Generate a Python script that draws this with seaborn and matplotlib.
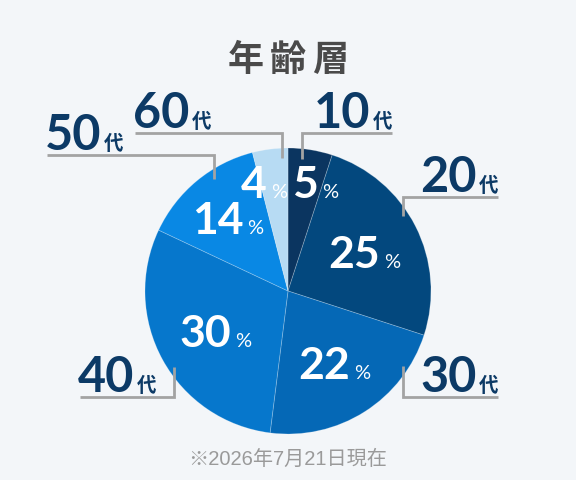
import matplotlib
matplotlib.use("Agg")
import matplotlib.pyplot as plt
import seaborn as sns
import numpy as np

# data
age_groups = ["10", "20", "30", "40", "50", "60"]
shares = [5, 25, 22, 30, 14, 4]
slice_colors = ["#0b3560", "#03487e", "#0568b6", "#0677cc", "#0988e4", "#b7dbf3"]
title = "年齢層"
note = "※2026年7月21日現在"

# layout (pixel coords, y downwards)
W, H = 576, 480
CX, CY, R = 288, 291, 143
pct_radius = [0.77, 0.6, 0.6, 0.58, 0.66, 0.77]
pct_nudge = [10, 0, 0, 0, 0, -10]
# anchor x, elbow y, line end x
leaders = [(302, 133, 392), (403, 197, 498), (403, 397, 498),
           (174, 397, 80), (214, 155, 47), (282, 133, 135)]

NAVY = "#0c3a66"
LINE = "#a3a3a3"
BG = "#f3f6f9"
NUM_FONT = ["Lato", "Noto Sans CJK JP", "DejaVu Sans"]
CJK_FONT = ["Noto Sans CJK JP", "DejaVu Sans"]

sns.set_theme(style="white")
plt.rcParams["font.family"] = CJK_FONT

fig = plt.figure(figsize=(W / 100, H / 100), dpi=100, facecolor=BG)
ax = fig.add_axes([0, 0, 1, 1])
ax.set_facecolor(BG)
ax.set_xlim(0, W)
ax.set_ylim(H, 0)
ax.set_aspect("equal")
ax.axis("off")

wedges, _ = ax.pie(shares, colors=slice_colors, center=(CX, CY), radius=R,
                   startangle=-90, counterclock=True,
                   wedgeprops=dict(edgecolor=(1, 1, 1, 0.25), linewidth=0.6))
ax.set_xlim(0, W)
ax.set_ylim(H, 0)

fig.canvas.draw()
renderer = fig.canvas.get_renderer()


def text_width(s, **kw):
    t = ax.text(0, 0, s, **kw)
    w = t.get_window_extent(renderer).width
    t.remove()
    return w


# percentage labels inside slices
num_kw = dict(fontsize=32, fontweight="bold", color="white", family=NUM_FONT)
pct_kw = dict(fontsize=14.5, color="white", family=NUM_FONT)
for wdg, val, rf, nx in zip(wedges, shares, pct_radius, pct_nudge):
    mid = np.deg2rad((wdg.theta1 + wdg.theta2) / 2)
    lx = CX + R * rf * np.cos(mid) + nx
    ly = CY + R * rf * np.sin(mid)
    s = str(val)
    wn = text_width(s, **num_kw)
    wp = text_width("%", **pct_kw)
    gap = 4
    x0 = lx - (wn + gap + wp) / 2
    base = ly + 16
    ax.text(x0, base, s, ha="left", va="baseline", **num_kw)
    ax.text(x0 + wn + gap, base, "%", ha="left", va="baseline", **pct_kw)

# leader lines and age labels
age_kw = dict(fontsize=35, fontweight="bold", color=NAVY, family=NUM_FONT)
dai_kw = dict(fontsize=14, fontweight="bold", color=NAVY, family=CJK_FONT)
for age, (ax_x, ey, ex) in zip(age_groups, leaders):
    dx = ax_x - CX
    dy = np.sqrt(R ** 2 - dx ** 2) - 10
    sy = CY - dy if ey < CY else CY + dy
    ax.plot([ax_x, ax_x, ex], [sy, ey, ey], color=LINE, lw=2,
            solid_capstyle="butt", solid_joinstyle="miter")
    base = ey - 5
    wn = text_width(age, **age_kw)
    wd = text_width("代", **dai_kw)
    gap = 2
    if ex > ax_x:
        xs = ex - (wn + gap + wd)
    else:
        xs = ex - 2
    ax.text(xs, base, age, ha="left", va="baseline", **age_kw)
    ax.text(xs + wn + gap, base, "代", ha="left", va="baseline", **dai_kw)

# title, letter spaced
for i, ch in enumerate(title):
    ax.text(CX + (i - 1) * 42, 60, ch, ha="center", va="center",
            fontsize=26, fontweight="bold", color="#4a4a4a", family=CJK_FONT)

ax.text(CX, 459, note, ha="center", va="center", fontsize=14.5,
        color="#9a9a9a", family=["Liberation Sans", "Noto Sans CJK JP"])

fig.savefig("out.png", dpi=100, facecolor=BG)
